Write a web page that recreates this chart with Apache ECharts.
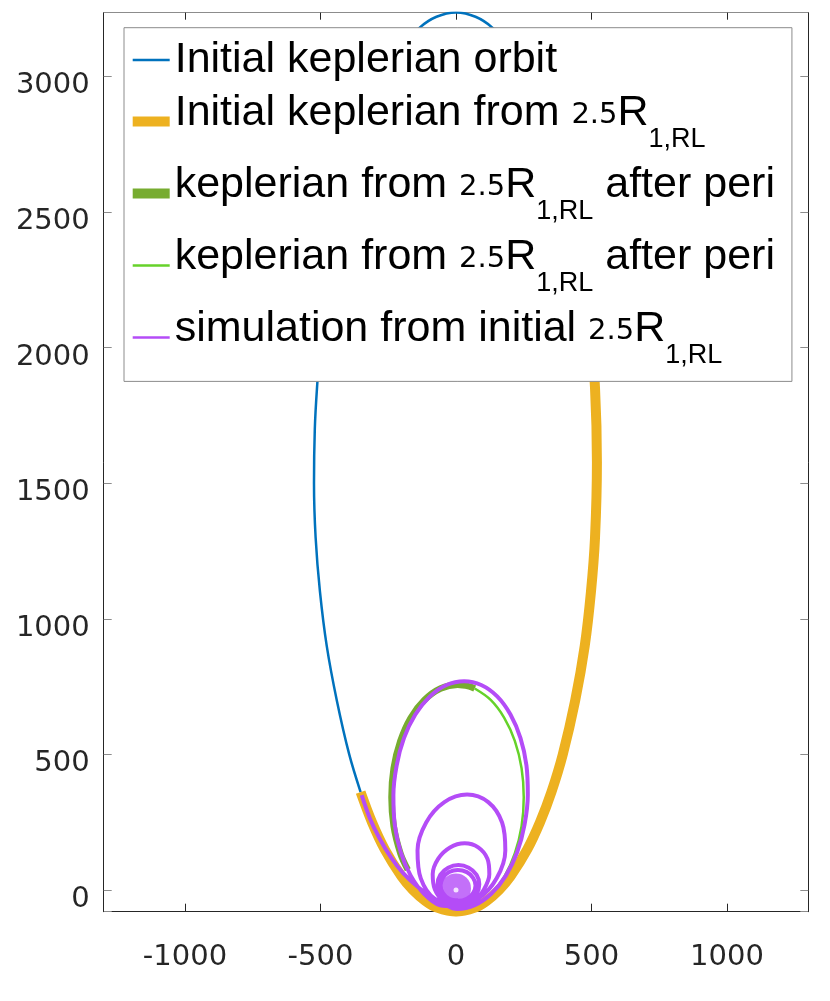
<!DOCTYPE html>
<html>
<head>
<meta charset="utf-8">
<title>Orbits</title>
<script src="https://cdn.jsdelivr.net/npm/echarts@6.0.0/dist/echarts.min.js"></script>
<style>
  html, body { margin: 0; padding: 0; background: #fff; }
  #chart { width: 830px; height: 1001px; }
</style>
</head>
<body>
<div id="chart"></div>
<script>
// axis limits (axis equal, read from the frame)
const xLimits = [-1300, 1300];
const yLimits = [-80, 3235];
const tickStep = 500;

// initial keplerian orbit (left side, apocentre, upper right side)
const orbitInit = [
  [-352, 361], [-394, 500], [-440, 700], [-477, 900], [-502, 1100], [-518, 1300],
  [-524, 1500], [-521, 1700], [-513, 1850], [-494, 2100], [-460, 2350], [-410, 2600], [-351, 2800],
  [-267, 3000], [-206, 3100], [-134, 3180], [-72, 3220], [0, 3236], [72, 3220],
  [134, 3180], [206, 3100], [267, 3000], [351, 2800], [410, 2600], [460, 2350]
];

// initial keplerian from 2.5 R1,RL
const orbitFrom = [
  [-352, 361], [-310, 250], [-263, 150], [-201, 50], [-159, 0], [-113, -40],
  [-70, -65], [0, -80], [70, -65], [113, -40], [159, 0], [201, 50], [263, 150],
  [310, 250], [352, 361], [394, 500], [440, 700], [475, 900], [498, 1100],
  [513, 1300], [520, 1578], [513, 1850], [494, 2100], [460, 2350]
];

// keplerian after pericentre, first (thick) part
const periThick = [
  [-178, 75], [-205, 135], [-230, 235], [-238, 342], [-230, 449], [-205, 550],
  [-167, 635], [-116, 701], [-57, 743], [6, 757], [48, 751], [69, 743]
];

// keplerian after pericentre, second (thin) part
const periThin = [
  [69, 743], [128, 701], [178, 635], [217, 550], [242, 449], [250, 342],
  [242, 235], [217, 135], [178, 48], [128, -17]
];

// simulation: inflow along the initial orbit, then decaying loops
const simPath = [
  [-348, 350], [-318, 265], [-282, 190], [-240, 120], [-195, 62], [-145, 15],
  [-90, -25], [-40, -55],
  [4, -70], [69, -56], [130, -14], [184, 53], [226, 140], [253, 241], [265, 350],
  [260, 459], [238, 560], [201, 647], [152, 714], [93, 756], [30, 770], [-35, 756],
  [-96, 714], [-150, 647], [-192, 560], [-219, 459], [-231, 350], [-226, 241],
  [-204, 140], [-167, 53], [-118, -14], [-59, -56],
  [-1, -60], [83, -32], [150, 43], [182, 146], [170, 249], [119, 324], [41, 352],
  [-43, 324], [-110, 249], [-142, 146], [-130, 43], [-79, -32],
  [6, -55], [66, -40], [103, 2], [123, 58], [116, 115], [82, 157], [32, 172],
  [-22, 157], [-66, 115], [-86, 58], [-78, 2], [-45, -40],
  [9, -50], [47, -40], [76, -14], [86, 21], [76, 56], [47, 82], [9, 92],
  [-29, 82], [-58, 56], [-68, 21], [-58, -14], [-29, -40],
  [7, -40], [40, -32], [63, -11], [72, 17], [63, 45], [40, 66], [7, 74],
  [-25, 66], [-48, 45], [-57, 17], [-48, -11], [-25, -32], [7, -38]
];
const simCore = [[0, 6]];
const simHole = [[0, 0]];

const seriesNames = ['orbitInit', 'orbitFrom', 'periThick', 'periThin', 'simulation'];
const legendText = [
  '{a|Initial keplerian orbit}',
  '{m|Initial keplerian from }{n|2.5}{m|R}{s|1,RL}',
  '{m|keplerian from }{n|2.5}{m|R}{s|1,RL}{m| after peri}',
  '{m|keplerian from }{n|2.5}{m|R}{s|1,RL}{m| after peri}',
  '{m|simulation from initial }{n|2.5}{m|R}{s|1,RL}'
];
const colors = ['#0072BD', '#EDB120', '#77AC30', '#66D22A', '#B44CF7'];
const widths = [2.5, 10, 6.5, 2.5, 4];

const thinIcon = 'path://M0,0H37V2.5H0Z';
const thickIcon = 'path://M0,0H37V10H0Z';
const legendIcons = [thinIcon, thickIcon, thickIcon, thinIcon, thinIcon];

const tickLabel = v => (v % tickStep === 0 ? String(v) : '');

function lineSeries(i, data) {
  return {
    name: seriesNames[i],
    type: 'line',
    data: data,
    symbol: 'none',
    showSymbol: false,
    smooth: 0.34,
    silent: true,
    color: colors[i],
    lineStyle: { color: colors[i], width: widths[i], cap: 'butt', join: 'round' },
    emphasis: { disabled: true }
  };
}

const chart = echarts.init(document.getElementById('chart'));
chart.setOption({
  animation: false,
  backgroundColor: '#fff',
  grid: { left: 103.7, right: 21.7, top: 12.7, bottom: 89.3, containLabel: false, outerBoundsMode: 'none' },
  xAxis: [
    {
      type: 'value', position: 'bottom', min: xLimits[0], max: xLimits[1], splitNumber: 5,
      splitLine: { show: false },
      axisLine: { onZero: false, lineStyle: { color: '#262626', width: 1 } },
      axisTick: { inside: true, length: 8, lineStyle: { color: '#262626' } },
      axisLabel: { formatter: tickLabel, fontFamily: 'DejaVu Sans', fontSize: 29, color: '#262626', margin: 31 }
    },
    {
      type: 'value', position: 'top', min: xLimits[0], max: xLimits[1], splitNumber: 5,
      splitLine: { show: false },
      axisLine: { onZero: false, lineStyle: { color: '#8c8c8c', width: 1 } },
      axisTick: { inside: true, length: 7, lineStyle: { color: '#262626' } },
      axisLabel: { show: false }
    }
  ],
  yAxis: [
    {
      type: 'value', position: 'left', min: yLimits[0], max: yLimits[1], splitNumber: 5,
      splitLine: { show: false },
      axisLine: { onZero: false, lineStyle: { color: '#262626', width: 1 } },
      axisTick: { inside: true, length: 8, lineStyle: { color: '#8c8c8c' } },
      axisLabel: { formatter: tickLabel, fontFamily: 'DejaVu Sans', fontSize: 29, color: '#262626', margin: 14,
                   verticalAlign: 'top', lineHeight: 19 }
    },
    {
      type: 'value', position: 'right', min: yLimits[0], max: yLimits[1], splitNumber: 5,
      splitLine: { show: false },
      axisLine: { onZero: false, lineStyle: { color: '#262626', width: 1 } },
      axisTick: { inside: true, length: 8, lineStyle: { color: '#8c8c8c' } },
      axisLabel: { show: false }
    }
  ],
  legend: {
    orient: 'vertical',
    left: 124,
    top: 27.7,
    padding: [10.7, 17, 12, 8.7],
    itemGap: 8,
    itemWidth: 37,
    itemHeight: 10,
    selectedMode: false,
    backgroundColor: '#fff',
    borderColor: '#8c8c8c',
    borderWidth: 1,
    itemStyle: { borderWidth: 0 },
    data: seriesNames.map((n, i) => ({ name: n, icon: legendIcons[i], itemStyle: { color: colors[i] } })),
    formatter: name => legendText[seriesNames.indexOf(name)],
    textStyle: {
      color: '#000',
      fontFamily: 'Liberation Sans',
      fontSize: 43,
      rich: {
        a: { fontFamily: 'Liberation Sans', fontSize: 43, lineHeight: 50, color: '#000' },
        m: { fontFamily: 'Liberation Sans', fontSize: 43, lineHeight: 74, padding: [0, 0, 17.5, 0], color: '#000' },
        n: { fontFamily: 'DejaVu Sans', fontSize: 29, lineHeight: 74, padding: [0, 0, 12, 0], color: '#000' },
        s: { fontFamily: 'Liberation Sans', fontSize: 27, lineHeight: 74, padding: [37, 0, 0, 0], color: '#000' }
      }
    }
  },
  series: [
    lineSeries(0, orbitInit),
    lineSeries(1, orbitFrom),
    lineSeries(2, periThick),
    lineSeries(3, periThin),
    lineSeries(4, simPath),
    { name: 'simCore', type: 'scatter', data: simCore, symbolSize: 30, silent: true,
      itemStyle: { color: colors[4] }, emphasis: { disabled: true } },
    { name: 'simHole', type: 'scatter', data: simHole, symbolSize: 5, silent: true,
      itemStyle: { color: '#fff' }, emphasis: { disabled: true } }
  ]
});
</script>
</body>
</html>
